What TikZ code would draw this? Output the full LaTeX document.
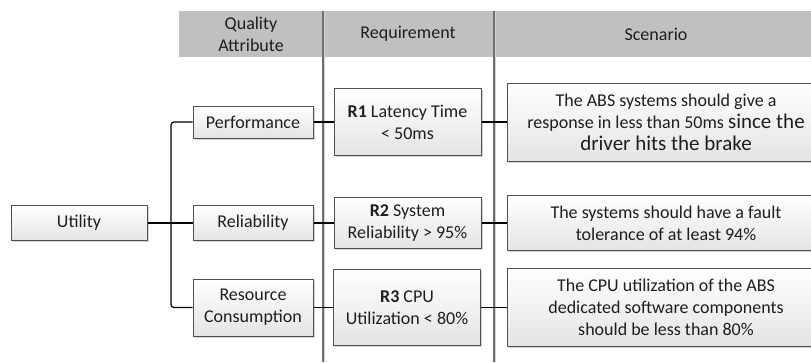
\documentclass[tikz,border=0pt]{standalone}
\usepackage{fontspec}
\setmainfont{Carlito}
\usetikzlibrary{shadows}
\definecolor{hdrgray}{RGB}{192,192,192}
\definecolor{boxline}{RGB}{80,80,80}
\definecolor{txt}{RGB}{30,30,30}
\definecolor{boxbot}{RGB}{228,228,228}
\definecolor{divline}{RGB}{110,110,110}
\definecolor{divshade}{RGB}{210,210,210}
\tikzset{
  qbox/.style={draw=boxline, line width=1pt, top color=white, bottom color=boxbot,
    text=txt, align=center, inner sep=2pt,
    font=\fontsize{18}{22}\selectfont,
    drop shadow={opacity=0.35, shadow xshift=1.5pt, shadow yshift=-1.5pt}},
  hdrtext/.style={text=txt, align=center, font=\fontsize{18}{22}\selectfont},
  conn/.style={draw=black, line width=1.2pt},
  divider/.style={draw=divline, line width=1.1pt},
  dividershade/.style={draw=divshade, line width=1pt}
}
\begin{document}
\begin{tikzpicture}[x=1pt, y=-1pt]
\useasboundingbox (0,0) rectangle (811,362);
% header band
\fill[hdrgray] (179,11) rectangle (811,57);
\node[hdrtext] (hqa) at (251,34) {Quality\\Attribute};
\node[hdrtext] (hreq) at (408,34) {Requirement};
\node[hdrtext] (hsc) at (656,34) {Scenario};
% dividers
\draw[dividershade] (324.8,11) -- (324.8,362);
\draw[dividershade] (495.8,11) -- (495.8,362);
\draw[divider] (323,11) -- (323,362);
\draw[divider] (494,11) -- (494,362);
% tree trunk coordinates
\coordinate (tt) at (171,122);
\coordinate (tb) at (171,307.5);
\node[qbox, minimum width=136pt, minimum height=35pt] (util) at (79,223) {Utility};
\node[qbox, minimum width=120pt, minimum height=32pt] (perf) at (253,122) {Performance};
\node[qbox, minimum width=120pt, minimum height=35pt] (reli) at (253,223) {Reliability};
\node[qbox, minimum width=120pt, minimum height=57pt] (reso) at (253,307.5) {Resource\\Consumption};
\node[qbox, minimum width=147pt, minimum height=67pt] (r1) at (407.5,122) {\textbf{R1} Latency Time\\< 50ms};
\node[qbox, minimum width=147pt, minimum height=51pt] (r2) at (407.5,223) {\textbf{R2} System\\Reliability > 95\%};
\node[qbox, minimum width=147pt, minimum height=76pt] (r3) at (407,307.5) {\textbf{R3} CPU\\Utilization < 80\%};
\node[qbox, minimum width=318pt, minimum height=78pt] (s1) at (666,122)
  {The ABS systems should give a\\response in less than 50ms {\fontsize{21}{24}\selectfont since the}\\{\fontsize{21}{24}\selectfont driver hits the brake}};
\node[qbox, minimum width=318pt, minimum height=55pt] (s2) at (666,223) {The systems should have a fault\\tolerance of at least 94\%};
\node[qbox, minimum width=318pt, minimum height=78pt] (s3) at (666,307.5) {The CPU utilization of the ABS\\dedicated software components\\should be less than 80\%};
% connectors
\draw[conn, rounded corners=3pt] (perf.west) -- (tt) -- (tb) -- (reso.west);
\draw[conn] (util.east) -- (reli.west);
\draw[conn] (perf.east) -- (r1.west);
\draw[conn] (r1.east) -- (s1.west);
\draw[conn] (reli.east) -- (r2.west);
\draw[conn] (r2.east) -- (s2.west);
\draw[conn] (reso.east) -- (r3.west);
\draw[conn] (r3.east) -- (s3.west);
\end{tikzpicture}
\end{document}
